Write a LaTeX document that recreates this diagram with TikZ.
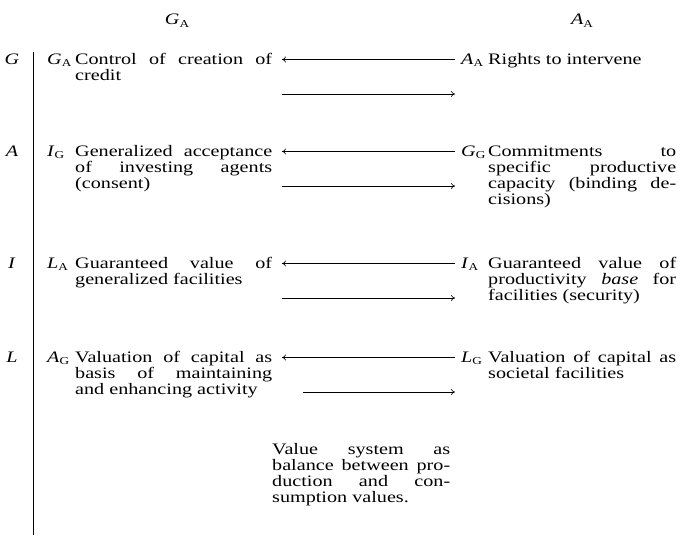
\documentclass[tikz,border=0pt]{standalone}
\usepackage{fontspec}
\setmainfont{Liberation Serif}[FakeStretch=1.26]
\usetikzlibrary{arrows.meta}
% function symbol with its subscript, e.g. G_A
\newcommand{\fsym}[2]{\textit{#1}\raisebox{-0.35ex}{\fontsize{10.5}{10.5}\selectfont #2}}
\tolerance=10000 \hbadness=10000

\begin{document}
\begin{tikzpicture}[x=1pt,y=-1pt,
  txt/.style={anchor=base west, inner sep=0pt, font=\fontsize{16}{16.3}\selectfont},
  blk/.style={txt, align=justify},
  lft/.style={blk, text width=197pt},
  rgt/.style={blk, text width=188pt},
  flow/.style={-{To[length=4pt,width=6pt]}, line width=0.6pt}]
\useasboundingbox (0,0) rectangle (684,535);

% column heads
\draw (177,25) node[txt, anchor=base] (headG) {\fsym{G}{A}};
\draw (582,25) node[txt, anchor=base] (headA) {\fsym{A}{A}};

% the bar with the four rows
\coordinate (barTop) at (33,52);
\coordinate (barBot) at (33,535);
\draw[line width=1pt] (barTop) -- (barBot);
\draw (12,64) node[txt, anchor=base] (rowG) {\textit{G}};
\draw (12,156) node[txt, anchor=base] (rowA) {\textit{A}};
\draw (12,268) node[txt, anchor=base] (rowI) {\textit{I}};
\draw (12,362) node[txt, anchor=base] (rowL) {\textit{L}};

% G row
\draw (47,64) node[txt] (symGA) {\fsym{G}{A}};
\draw (75,64) node[lft] (credit) {Control of creation of\linebreak credit};
\draw (461,64) node[txt] (symAA) {\fsym{A}{A}};
\draw (488,64) node[rgt] (rights) {Rights to intervene};
\coordinate (credit-in) at (282,59.5);
\coordinate (rights-out) at (455,59.5);
\coordinate (credit-out) at (282,94);
\coordinate (rights-in) at (455,94);
\draw[flow] (rights-out) -- (credit-in);
\draw[flow] (credit-out) -- (rights-in);

% A row
\draw (47,156) node[txt] (symIG) {\fsym{I}{G}};
\draw (75,156) node[lft] (consent) {Generalized acceptance\linebreak of investing agents\linebreak (consent)};
\draw (461,156) node[txt] (symGG) {\fsym{G}{G}};
\draw (488,156) node[rgt] (commit) {Commitments to\linebreak specific productive\linebreak capacity (binding de-\linebreak cisions)};
\coordinate (consent-in) at (282,151.5);
\coordinate (commit-out) at (455,151.5);
\coordinate (consent-out) at (282,186);
\coordinate (commit-in) at (455,186);
\draw[flow] (commit-out) -- (consent-in);
\draw[flow] (consent-out) -- (commit-in);

% I row
\draw (47,268) node[txt] (symLA) {\fsym{L}{A}};
\draw (75,268) node[lft] (facil) {Guaranteed value of\linebreak generalized facilities};
\draw (461,268) node[txt] (symIA) {\fsym{I}{A}};
\draw (488,268) node[rgt] (security) {Guaranteed value of\linebreak productivity \textit{base} for\linebreak facilities (security)};
\coordinate (facil-in) at (282,263.5);
\coordinate (security-out) at (455,263.5);
\coordinate (facil-out) at (282,298);
\coordinate (security-in) at (455,298);
\draw[flow] (security-out) -- (facil-in);
\draw[flow] (facil-out) -- (security-in);

% L row
\draw (47,362) node[txt] (symAG) {\fsym{A}{G}};
\draw (75,362) node[lft] (capital) {Valuation of capital as\linebreak basis of maintaining\linebreak and enhancing activity};
\draw (461,362) node[txt] (symLG) {\fsym{L}{G}};
\draw (488,362) node[rgt] (societal) {Valuation of capital as\linebreak societal facilities};
\coordinate (capital-in) at (282,357.5);
\coordinate (societal-out) at (455,357.5);
\coordinate (capital-out) at (303,392);
\coordinate (societal-in) at (455,392);
\draw[flow] (societal-out) -- (capital-in);
\draw[flow] (capital-out) -- (societal-in);

% value system note
\draw (272,454) node[blk, text width=178pt] (values) {Value system as\linebreak balance between pro-\linebreak duction and con-\linebreak sumption values.};
\end{tikzpicture}
\end{document}
